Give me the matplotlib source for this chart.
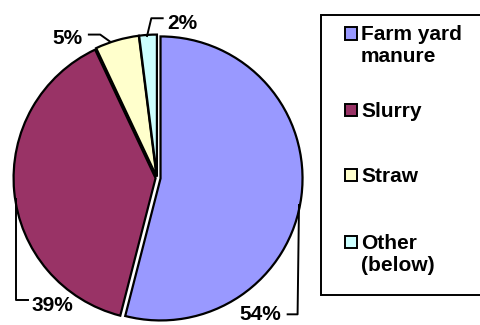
import matplotlib
matplotlib.use("Agg")
import matplotlib.pyplot as plt
from matplotlib.patches import Rectangle

plt.rcParams['font.family'] = ['Liberation Sans', 'DejaVu Sans']
plt.rcParams['font.weight'] = 'bold'

# manure sources, share in percent
sources = ['Farm yard\nmanure', 'Slurry', 'Straw', 'Other\n(below)']
shares = [54, 39, 5, 2]
colours = ['#9999FF', '#993366', '#FFFFCC', '#CCFFFF']
explode = [0.025, 0.01, 0.01, 0.01]

fig = plt.figure(figsize=(4.8, 3.25), dpi=100)
W, H = 480, 325

# pie axes: centre at (157, 178) px, radius 142 px
cx, cy, r = 157, 178, 142
half = 1.12 * r
ax = fig.add_axes([(cx - half) / W, (H - cy - half) / H, 2 * half / W, 2 * half / H])
wedges, _ = ax.pie(shares, colors=colours, explode=explode, startangle=90,
                   counterclock=False, radius=1,
                   wedgeprops=dict(edgecolor='black', linewidth=1.6))
ax.set_xlim(-1.12, 1.12)
ax.set_ylim(-1.12, 1.12)
ax.set_aspect('equal')
ax.axis('off')

# percent labels with elbow leader lines (label anchor, vertical alignment)
label_pos = [(0.73, -1.03, 'bottom'), (-0.74, -0.90, 'center'),
             (-0.63, 0.98, 'center'), (0.18, 1.09, 'center')]
leaders = [
    [(1.0, -0.19), (0.99, -0.96), (0.92, -0.96)],
    [(-0.99, -0.15), (-0.99, -0.86), (-0.91, -0.86)],
    [(-0.33, 0.96), (-0.40, 1.01), (-0.48, 1.01)],
    [(-0.07, 1.00), (-0.04, 1.125), (0.04, 1.125)],
]
for share, (lx, ly, va), line in zip(shares, label_pos, leaders):
    xs, ys = zip(*line)
    ax.plot(xs, ys, color='black', lw=1.4, clip_on=False)
    ax.text(lx, ly, f'{share}%', ha='center', va=va, fontsize=15,
            fontweight='bold', clip_on=False)

# legend box drawn by hand
fig.patches.append(Rectangle((321 / W, (H - 295) / H), 160 / W, 280 / H,
                             transform=fig.transFigure, fill=False,
                             edgecolor='black', lw=1.4))
rows = [33.5, 110, 175, 242]
for name, colour, y in zip(sources, colours, rows):
    fig.patches.append(Rectangle((345 / W, (H - y - 6) / H), 12 / W, 12 / H,
                                 transform=fig.transFigure, facecolor=colour,
                                 edgecolor='black', lw=1.4))
    fig.text(361 / W, (H - y + 8) / H, name, ha='left', va='top', fontsize=15,
             fontweight='bold', linespacing=1.2)

fig.savefig('out.png', dpi=100)
